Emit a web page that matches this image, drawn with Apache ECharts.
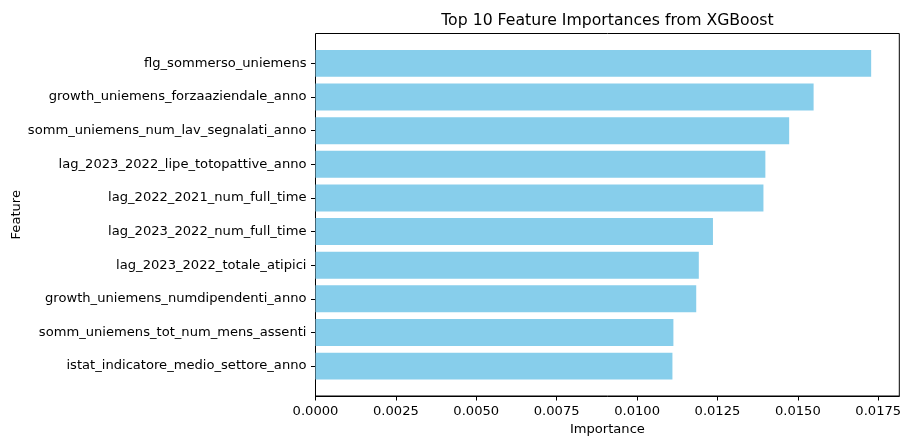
<!DOCTYPE html>
<html>
<head>
<meta charset="utf-8">
<script src="https://cdn.jsdelivr.net/npm/echarts@6/dist/echarts.min.js"></script>
<style>
html,body{margin:0;padding:0;background:#fff;overflow:hidden;}
#c{width:900px;height:436px;}
</style>
</head>
<body>
<div id="c"></div>
<script>
const features = [
  "flg_sommerso_uniemens",
  "growth_uniemens_forzaaziendale_anno",
  "somm_uniemens_num_lav_segnalati_anno",
  "lag_2023_2022_lipe_totopattive_anno",
  "lag_2022_2021_num_full_time",
  "lag_2023_2022_num_full_time",
  "lag_2023_2022_totale_atipici",
  "growth_uniemens_numdipendenti_anno",
  "somm_uniemens_tot_num_mens_assenti",
  "istat_indicatore_medio_settore_anno"
];
const importances = [0.01728, 0.01549, 0.01473, 0.01399, 0.01393, 0.01236, 0.01192, 0.01184, 0.01113, 0.01110];
const xTicks = [0, 0.0025, 0.005, 0.0075, 0.01, 0.0125, 0.015, 0.0175];
const xMax = 0.018155;

const font = 'DejaVu Sans';
const fs = 13.1;
const chart = echarts.init(document.getElementById('c'), null, {renderer: 'canvas', width: 900, height: 436});
chart.setOption({
  animation: false,
  backgroundColor: '#fff',
  textStyle: {fontFamily: font},
  title: {
    text: 'Top 10 Feature Importances from XGBoost',
    left: 607.4,
    top: 13,
    padding: 0,
    textAlign: 'center',
    textStyle: {fontFamily: font, fontSize: 15.7, fontWeight: 'normal', color: '#000'}
  },
  grid: [
    {left: 315.5, top: 33.5, width: 583.8, height: 362.5, outerBoundsMode: 'none', containLabel: false,
     show: true, borderColor: '#000', borderWidth: 1, backgroundColor: 'transparent'},
    {left: 315.5, top: 46.6, width: 583.8, height: 336.3, outerBoundsMode: 'none', containLabel: false}
  ],
  xAxis: [
    {
      gridIndex: 0, type: 'value', min: 0, max: xMax,
      name: 'Importance', nameLocation: 'middle', nameGap: 27, nameMoveOverlap: false,
      nameTextStyle: {fontFamily: font, fontSize: fs, color: '#000'},
      axisLine: {show: true, lineStyle: {color: '#000', width: 1}},
      axisTick: {show: true, length: 4.5, lineStyle: {color: '#000', width: 1}, customValues: xTicks},
      axisLabel: {fontFamily: font, fontSize: fs, color: '#000', margin: 9, customValues: xTicks,
        hideOverlap: false, formatter: v => v.toFixed(4)},
      splitLine: {show: false}
    },
    {
      gridIndex: 1, type: 'value', min: 0, max: xMax, show: false
    }
  ],
  yAxis: [
    {gridIndex: 0, type: 'value', min: 0, max: 1, show: false},
    {
      gridIndex: 1, type: 'category', inverse: true, data: features,
      name: 'Feature', nameLocation: 'middle', nameGap: 292, nameMoveOverlap: false,
      nameTextStyle: {fontFamily: font, fontSize: fs, color: '#000'},
      axisLine: {show: false},
      axisTick: {show: true, alignWithLabel: true, length: 4.5, lineStyle: {color: '#000', width: 1}},
      axisLabel: {fontFamily: font, fontSize: fs, color: '#000', margin: 9}
    }
  ],
  series: [{
    type: 'bar',
    xAxisIndex: 1, yAxisIndex: 1,
    data: importances,
    barCategoryGap: '20%',
    itemStyle: {color: '#87CEEB'}
  }]
});
</script>
</body>
</html>
